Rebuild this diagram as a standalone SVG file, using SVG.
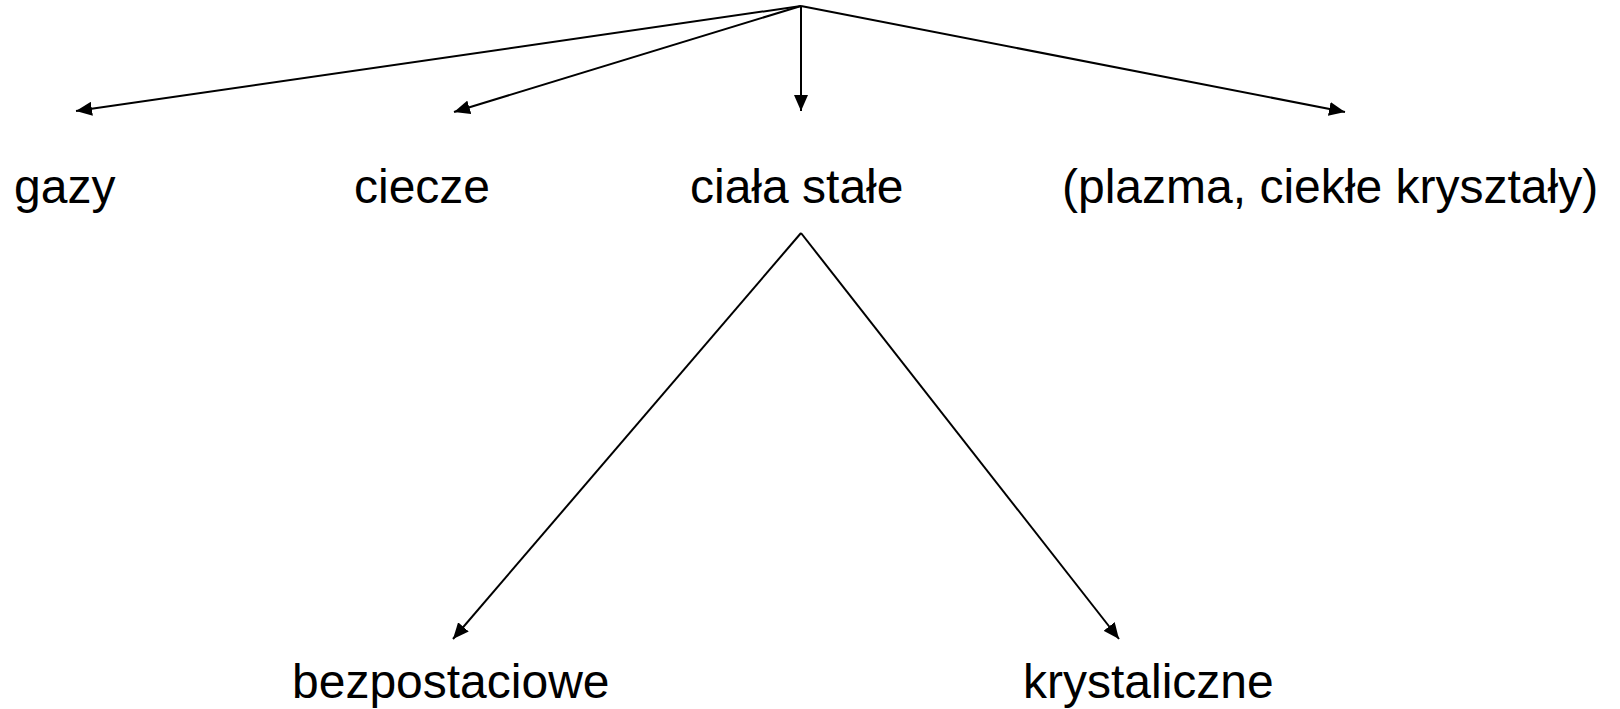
<svg xmlns="http://www.w3.org/2000/svg" width="1620" height="709" viewBox="0 0 1620 709">
  <style>
    .lbl { font-family: "Liberation Sans", Arial, sans-serif; font-size: 48px; fill: #000; }
    .edge { stroke: #000; stroke-width: 2; fill: none; marker-end: url(#arrow); }
  </style>
  <defs>
    <marker id="arrow" markerUnits="userSpaceOnUse" markerWidth="18" markerHeight="14" refX="16" refY="7" orient="auto">
      <path d="M0,0 L16,7 L0,14 z" fill="#000"/>
    </marker>
  </defs>
  <rect width="1620" height="709" fill="#fff"/>

  <g id="connectors">
    <line class="edge" x1="801" y1="6" x2="76" y2="111"/>
    <line class="edge" x1="801" y1="6" x2="454" y2="112"/>
    <line class="edge" x1="801" y1="6" x2="801" y2="111"/>
    <line class="edge" x1="801" y1="6" x2="1345" y2="112"/>
    <line class="edge" x1="801" y1="233" x2="453" y2="639"/>
    <line class="edge" x1="801" y1="233" x2="1119" y2="639"/>
  </g>

  <g id="gazy"><text class="lbl" x="14" y="203">gazy</text></g>
  <g id="ciecze"><text class="lbl" x="354" y="203">ciecze</text></g>
  <g id="ciala-stale"><text class="lbl" x="690" y="203">ciała stałe</text></g>
  <g id="inne"><text class="lbl" x="1062" y="203">(plazma, ciekłe kryształy)</text></g>
  <g id="bezpostaciowe"><text class="lbl" x="292" y="698">bezpostaciowe</text></g>
  <g id="krystaliczne"><text class="lbl" x="1023" y="698">krystaliczne</text></g>
</svg>
